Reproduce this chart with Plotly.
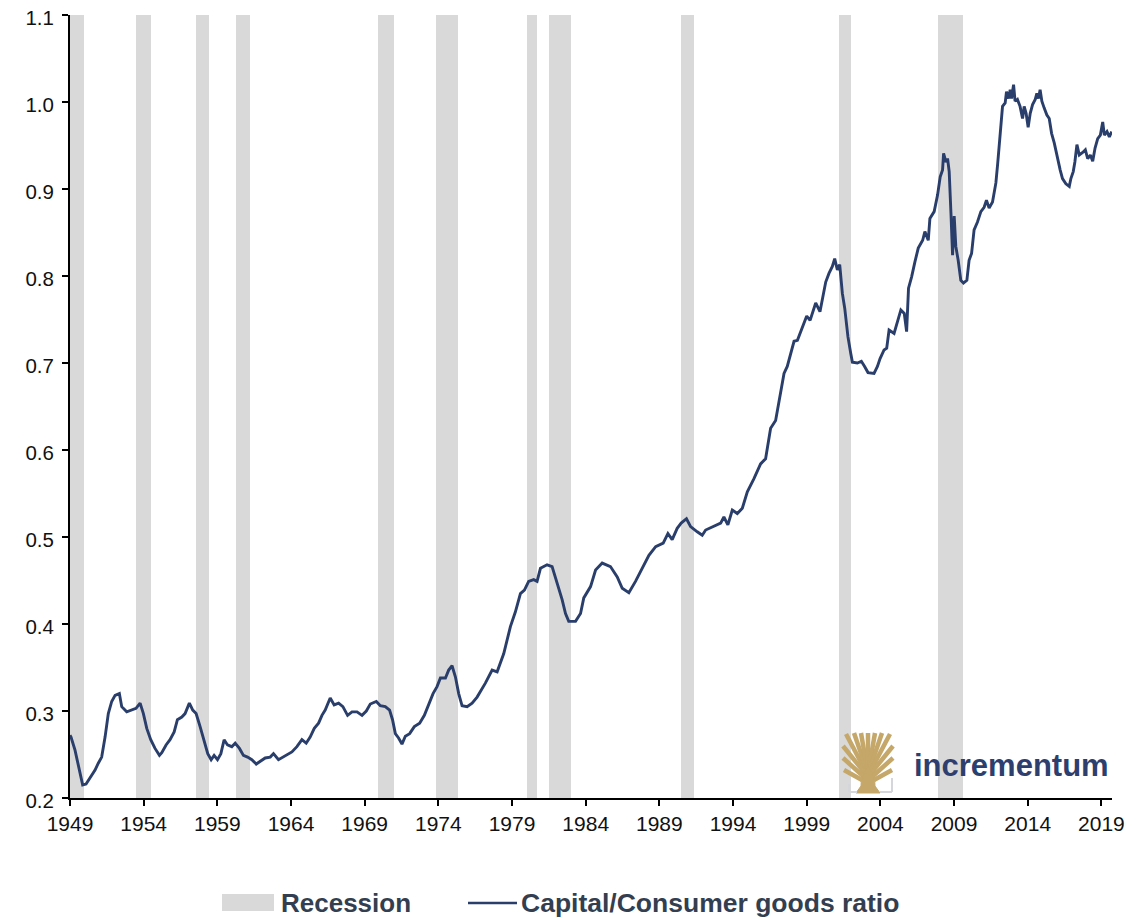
import plotly.graph_objects as go

# ---------------- data ----------------
years = [
    1949.00, 1949.07, 1949.34, 1949.61, 1949.86, 1950.09, 1950.36, 1950.70, 1950.92, 1951.15,
    1951.38, 1951.60, 1951.83, 1952.06, 1952.35, 1952.51, 1952.85, 1953.19, 1953.48, 1953.76,
    1953.98, 1954.21, 1954.48, 1954.77, 1955.07, 1955.23, 1955.52, 1955.79, 1956.07, 1956.29,
    1956.59, 1956.81, 1957.10, 1957.33, 1957.56, 1957.83, 1958.10, 1958.35, 1958.58, 1958.78,
    1959.01, 1959.24, 1959.46, 1959.69, 1959.98, 1960.21, 1960.50, 1960.77, 1961.05, 1961.34,
    1961.64, 1961.91, 1962.25, 1962.59, 1962.81, 1963.15, 1963.61, 1964.06, 1964.40, 1964.74,
    1965.03, 1965.30, 1965.58, 1965.87, 1966.10, 1966.32, 1966.66, 1966.93, 1967.23, 1967.52,
    1967.84, 1968.14, 1968.48, 1968.82, 1969.11, 1969.38, 1969.79, 1970.06, 1970.40, 1970.69,
    1970.89, 1971.08, 1971.30, 1971.53, 1971.76, 1972.05, 1972.37, 1972.73, 1973.05, 1973.34,
    1973.64, 1973.91, 1974.14, 1974.48, 1974.70, 1974.93, 1975.16, 1975.38, 1975.61, 1975.95,
    1976.29, 1976.63, 1977.19, 1977.65, 1977.99, 1978.44, 1978.89, 1979.23, 1979.57, 1979.84,
    1980.13, 1980.47, 1980.70, 1980.93, 1981.38, 1981.72, 1982.06, 1982.40, 1982.63, 1982.85,
    1983.31, 1983.65, 1983.87, 1984.33, 1984.67, 1985.12, 1985.68, 1986.14, 1986.48, 1986.93,
    1987.38, 1987.84, 1988.29, 1988.75, 1989.26, 1989.58, 1989.87, 1990.21, 1990.48, 1990.84,
    1991.12, 1991.57, 1991.91, 1992.14, 1992.70, 1993.16, 1993.38, 1993.65, 1993.95, 1994.29,
    1994.63, 1994.97, 1995.42, 1995.87, 1996.21, 1996.55, 1996.89, 1997.23, 1997.46, 1997.68,
    1997.91, 1998.14, 1998.37, 1998.59, 1998.82, 1999.00, 1999.23, 1999.45, 1999.61, 1999.90,
    2000.13, 2000.29, 2000.51, 2000.74, 2000.90, 2001.08, 2001.24, 2001.42, 2001.58, 2001.80,
    2001.99, 2002.10, 2002.44, 2002.71, 2002.93, 2003.16, 2003.57, 2003.80, 2003.98, 2004.25,
    2004.43, 2004.59, 2004.93, 2005.16, 2005.39, 2005.62, 2005.78, 2005.91, 2006.12, 2006.34,
    2006.57, 2006.87, 2007.02, 2007.25, 2007.36, 2007.65, 2007.88, 2008.06, 2008.22, 2008.29,
    2008.45, 2008.56, 2008.67, 2008.79, 2008.90, 2009.01, 2009.12, 2009.28, 2009.46, 2009.64,
    2009.87, 2010.02, 2010.19, 2010.36, 2010.59, 2010.82, 2011.04, 2011.20, 2011.38, 2011.61,
    2011.84, 2011.96, 2012.13, 2012.29, 2012.47, 2012.56, 2012.70, 2012.81, 2012.90, 2013.04,
    2013.14, 2013.30, 2013.48, 2013.65, 2013.76, 2013.89, 2014.03, 2014.17, 2014.33, 2014.51,
    2014.62, 2014.73, 2014.84, 2014.96, 2015.12, 2015.30, 2015.46, 2015.62, 2015.80, 2016.02,
    2016.20, 2016.36, 2016.59, 2016.82, 2016.93, 2017.09, 2017.20, 2017.34, 2017.50, 2017.73,
    2017.91, 2018.07, 2018.25, 2018.41, 2018.57, 2018.75, 2018.93, 2019.09, 2019.20, 2019.38,
    2019.54, 2019.70,
]

ratio = [
    0.272, 0.270, 0.255, 0.236, 0.215, 0.216, 0.223, 0.232, 0.240, 0.247,
    0.270, 0.297, 0.311, 0.318, 0.320, 0.305, 0.299, 0.301, 0.303, 0.309,
    0.297, 0.280, 0.267, 0.257, 0.249, 0.252, 0.261, 0.267, 0.276, 0.290,
    0.293, 0.297, 0.309, 0.301, 0.297, 0.282, 0.267, 0.251, 0.244, 0.249,
    0.244, 0.251, 0.267, 0.261, 0.259, 0.263, 0.257, 0.249, 0.247, 0.244,
    0.239, 0.242, 0.246, 0.247, 0.251, 0.244, 0.249, 0.253, 0.259, 0.267,
    0.263, 0.270, 0.280, 0.286, 0.295, 0.301, 0.315, 0.307, 0.309, 0.305,
    0.295, 0.299, 0.299, 0.295, 0.300, 0.308, 0.311, 0.306, 0.305, 0.301,
    0.290, 0.274, 0.269, 0.262, 0.271, 0.274, 0.282, 0.286, 0.295, 0.307,
    0.320, 0.328, 0.338, 0.338, 0.347, 0.352, 0.339, 0.320, 0.306, 0.305,
    0.309, 0.316, 0.332, 0.347, 0.345, 0.366, 0.397, 0.414, 0.435, 0.439,
    0.449, 0.451, 0.449, 0.464, 0.468, 0.466, 0.447, 0.428, 0.412, 0.403,
    0.403, 0.412, 0.430, 0.443, 0.462, 0.470, 0.466, 0.454, 0.441, 0.436,
    0.449, 0.464, 0.479, 0.489, 0.493, 0.504, 0.497, 0.510, 0.516, 0.521,
    0.512, 0.506, 0.502, 0.508, 0.512, 0.516, 0.523, 0.514, 0.531, 0.527,
    0.533, 0.552, 0.567, 0.584, 0.590, 0.625, 0.634, 0.669, 0.688, 0.696,
    0.711, 0.725, 0.726, 0.736, 0.748, 0.754, 0.749, 0.761, 0.769, 0.759,
    0.780, 0.793, 0.803, 0.811, 0.820, 0.807, 0.813, 0.780, 0.763, 0.730,
    0.711, 0.701, 0.700, 0.702, 0.696, 0.689, 0.688, 0.696, 0.705, 0.715,
    0.717, 0.738, 0.734, 0.748, 0.761, 0.757, 0.736, 0.786, 0.799, 0.816,
    0.832, 0.841, 0.851, 0.841, 0.866, 0.874, 0.893, 0.914, 0.922, 0.941,
    0.931, 0.935, 0.920, 0.872, 0.824, 0.869, 0.834, 0.818, 0.795, 0.792,
    0.795, 0.818, 0.826, 0.853, 0.862, 0.874, 0.879, 0.887, 0.878, 0.885,
    0.907, 0.929, 0.968, 0.995, 0.999, 1.012, 1.004, 1.014, 1.004, 1.020,
    1.001, 1.003, 0.995, 0.981, 0.995, 0.987, 0.971, 0.987, 0.997, 1.003,
    1.010, 1.004, 1.014, 1.001, 0.993, 0.985, 0.981, 0.964, 0.953, 0.935,
    0.922, 0.912, 0.906, 0.903, 0.912, 0.920, 0.931, 0.951, 0.939, 0.942,
    0.945, 0.935, 0.939, 0.932, 0.947, 0.958, 0.962, 0.977, 0.962, 0.966,
    0.960, 0.966,
]

# US recessions (start / end as decimal years)
rec_start = [1948.83, 1953.50, 1957.58, 1960.25, 1969.92, 1973.83, 1980.00, 1981.50, 1990.50, 2001.17, 2007.92]
rec_end = [1949.92, 1954.50, 1958.42, 1961.25, 1971.00, 1975.33, 1980.67, 1983.00, 1991.33, 2002.00, 2009.58]

x_ticks = [1949, 1954, 1959, 1964, 1969, 1974, 1979, 1984, 1989, 1994, 1999, 2004, 2009, 2014, 2019]
y_ticks = [0.2, 0.3, 0.4, 0.5, 0.6, 0.7, 0.8, 0.9, 1.0, 1.1]

legend_labels = ["Recession", "Capital/Consumer goods ratio"]
logo_text = "incrementum"

# ---------------- style ----------------
LINE_COLOR = "#2a3e6b"
REC_COLOR = "#d9d9d9"
GOLD = "#c4a769"
TEXT_COLOR = "#333f50"
FONT = "Liberation Sans, Arial, sans-serif"

OFF = 8                      # page body margin of the browser
W, H = 1148 - OFF, 918 - OFF
PLOT_L, PLOT_R, PLOT_T, PLOT_B = 70, 1112, 15, 798   # plot area in page pixels
L, R, T, B = PLOT_L - OFF, W - (PLOT_R - OFF), PLOT_T - OFF, H - (PLOT_B - OFF)
PW, PH = PLOT_R - PLOT_L, PLOT_B - PLOT_T


def PX(x):
    return (x - PLOT_L) / PW


def PY(y):
    return (PLOT_B - y) / PH


fig = go.Figure()

fig.add_trace(go.Bar(
    x=[(s + e) / 2 for s, e in zip(rec_start, rec_end)],
    y=[y_ticks[-1] - y_ticks[0]] * len(rec_start),
    base=y_ticks[0],
    width=[e - s for s, e in zip(rec_start, rec_end)],
    marker=dict(color=REC_COLOR, line=dict(width=0)),
    name=legend_labels[0],
    showlegend=False,
    hoverinfo="skip",
))

fig.add_trace(go.Scatter(
    x=years, y=ratio, mode="lines",
    line=dict(color=LINE_COLOR, width=2.9),
    name=legend_labels[1],
    showlegend=False,
))

shapes = []
annotations = []

# custom legend
shapes.append(dict(type="rect", xref="paper", yref="paper",
                   x0=PX(222), x1=PX(274), y0=PY(894), y1=PY(911),
                   fillcolor=REC_COLOR, line=dict(width=0), layer="above"))
annotations.append(dict(text=legend_labels[0], xref="paper", yref="paper",
                        x=PX(279), y=PY(903), xanchor="left", yanchor="middle",
                        showarrow=False, font=dict(family=FONT, size=26, color=TEXT_COLOR, weight="bold")))
shapes.append(dict(type="line", xref="paper", yref="paper",
                   x0=PX(468), x1=PX(517), y0=PY(903), y1=PY(903),
                   line=dict(color=LINE_COLOR, width=2.6), layer="above"))
annotations.append(dict(text=legend_labels[1], xref="paper", yref="paper",
                        x=PX(519), y=PY(903), xanchor="left", yanchor="middle",
                        showarrow=False, font=dict(family=FONT, size=26.5, color=TEXT_COLOR, weight="bold")))


# logo: tree icon
def seg(p0, p1, color=GOLD, width=4.5):
    return dict(type="line", xref="paper", yref="paper",
                x0=PX(p0[0]), y0=PY(p0[1]), x1=PX(p1[0]), y1=PY(p1[1]),
                line=dict(color=color, width=width), layer="above")


def poly(points, color=GOLD):
    path = "M " + " L ".join(f"{PX(a):.5f},{PY(b):.5f}" for a, b in points) + " Z"
    return dict(type="path", xref="paper", yref="paper", path=path,
                fillcolor=color, line=dict(color=color, width=1), layer="above")


shapes.append(poly([(856, 793), (880, 793), (875, 786), (874, 766), (862, 766), (861, 786)]))
for base, tip in [((865, 770), (846, 734)), ((866, 768), (854, 733)), ((867, 768), (861, 733)),
                  ((868, 768), (868, 733)), ((869, 768), (875, 733)), ((870, 768), (882, 733)),
                  ((871, 770), (890, 734)), ((864, 772), (843, 746)), ((872, 772), (893, 746)),
                  ((863, 776), (843, 758)), ((873, 776), (893, 758)), ((862, 780), (844, 770)),
                  ((874, 780), (892, 770))]:
    shapes.append(seg(base, tip))
# light brackets under the tree
for p0, p1 in [((849, 784), (849, 792)), ((849, 792), (857, 792)),
               ((892, 778), (892, 792)), ((880, 792), (892, 792))]:
    shapes.append(seg(p0, p1, color="#d5d5dc", width=2))

annotations.append(dict(text=logo_text, xref="paper", yref="paper",
                        x=PX(1011), y=PY(765), xanchor="center", yanchor="middle",
                        showarrow=False,
                        font=dict(family=FONT, size=31, color="#2d3f6e", weight="bold")))

fig.update_layout(
    width=W, height=H,
    margin=dict(l=L, r=R, t=T, b=B, pad=0),
    paper_bgcolor="white", plot_bgcolor="white",
    font=dict(family=FONT, color="#111111"),
    bargap=0,
    shapes=shapes,
    annotations=annotations,
    showlegend=False,
)

fig.update_xaxes(
    range=[1949, 2019.72], automargin=False,
    tickmode="array", tickvals=x_ticks, ticktext=[str(v) for v in x_ticks],
    showgrid=False, zeroline=False,
    showline=True, linecolor="black", linewidth=2,
    ticks="outside", ticklen=6, tickwidth=1.5, tickcolor="black",
    ticklabeloverflow="allow",
    tickfont=dict(family=FONT, size=21, color="#111111"),
)
fig.update_yaxes(
    range=[0.2, 1.1], automargin=False,
    tickmode="array", tickvals=y_ticks, ticktext=[f"{v:.1f}" for v in y_ticks],
    showgrid=False, zeroline=False,
    showline=True, linecolor="black", linewidth=2,
    ticks="outside", ticklen=6, tickwidth=1.5, tickcolor="black",
    ticklabelstandoff=4, ticklabelshift=3, ticklabeloverflow="allow",
    tickfont=dict(family=FONT, size=20.5, color="#111111"),
)

fig.write_html("out.html")
